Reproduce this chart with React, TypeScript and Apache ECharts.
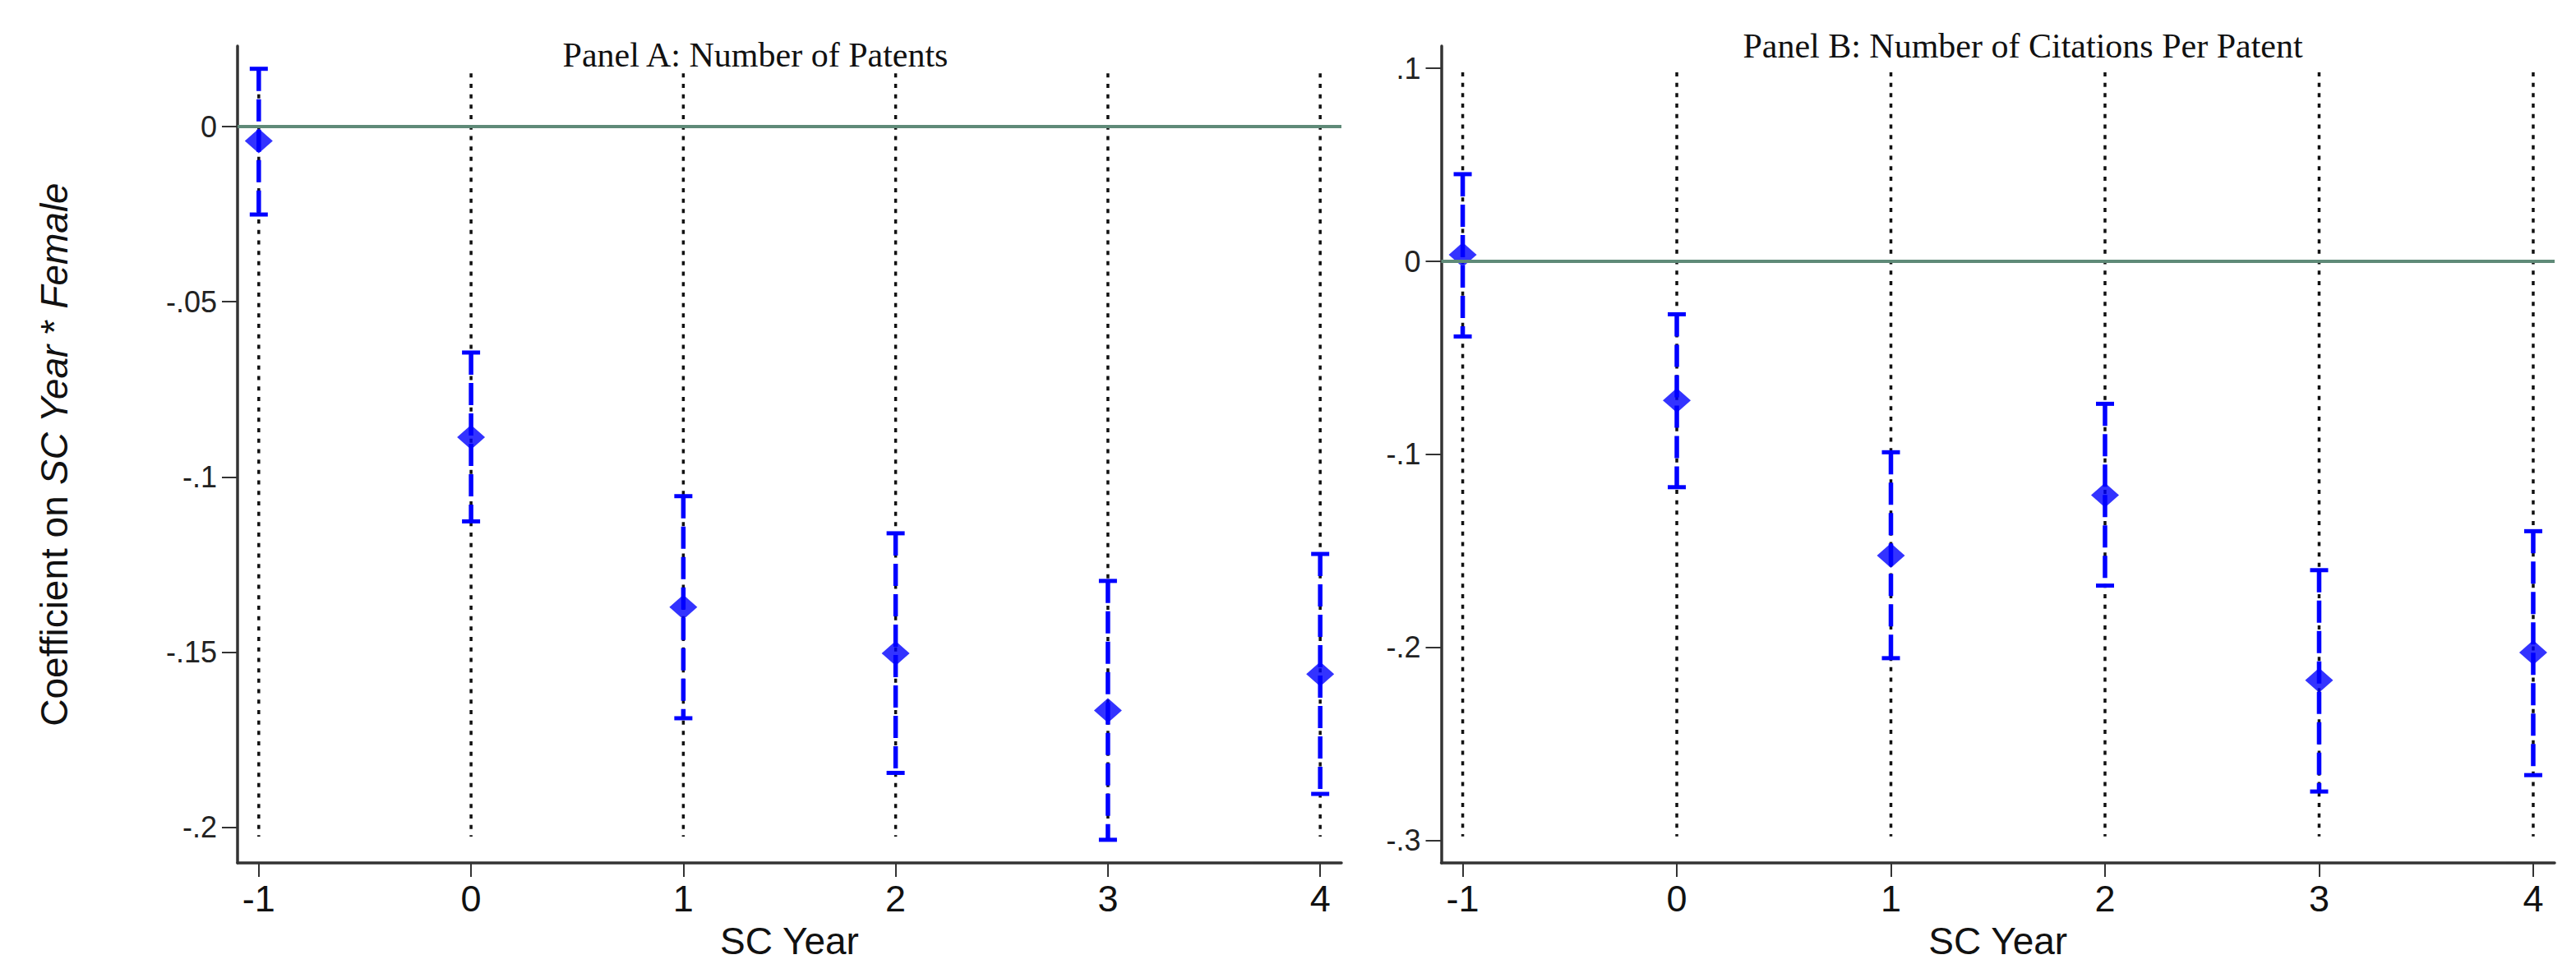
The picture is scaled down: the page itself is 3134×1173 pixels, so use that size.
import React, { useEffect, useRef } from "react";
import * as echarts from "echarts";

// ---- data ----
const years = [-1, 0, 1, 2, 3, 4];

// Panel A: Number of Patents
const patentsCoef = [-0.0041, -0.0887, -0.1372, -0.1504, -0.1667, -0.1563];
const patentsHi = [0.0165, -0.0645, -0.1055, -0.1161, -0.1297, -0.122];
const patentsLo = [-0.0251, -0.1127, -0.1689, -0.1845, -0.2036, -0.1905];

// Panel B: Number of Citations Per Patent
const citesCoef = [0.0034, -0.072, -0.1524, -0.1211, -0.2171, -0.2027];
const citesHi = [0.0452, -0.0274, -0.0989, -0.0738, -0.16, -0.1398];
const citesLo = [-0.0389, -0.117, -0.2056, -0.168, -0.2747, -0.2662];

// tick labels / axis ranges
const patentsTicks = [0, -0.05, -0.1, -0.15, -0.2];
const citesTicks = [0.1, 0, -0.1, -0.2, -0.3];
const patentsRange = [-0.2102, 0.023];
const citesRange = [-0.3117, 0.1116];
const xRange = [-1.1, 4.1];
// vertical dotted guide lines (x-lines) extent
const patentsGuide = [-0.2027, 0.0152];
const citesGuide = [-0.298, 0.098];

const titleA = "Panel A: Number of Patents";
const titleB = "Panel B: Number of Citations Per Patent";

const SANS = "'Liberation Sans', Arial, Helvetica, sans-serif";
const SERIF = "'Liberation Serif', 'Times New Roman', Times, serif";
const BLUE = "#0000ff";

function fmtY(v: number): string {
  if (Math.abs(v) < 1e-9) return "0";
  const s = String(Math.round(v * 1000) / 1000);
  return s.replace("0.", ".");
}

function buildErrData(lo: number[], hi: number[]) {
  return years.map((x, i) => [x, lo[i], hi[i]]);
}

function errRender(params: any, api: any) {
  const x = api.value(0);
  const lo = api.value(1);
  const hi = api.value(2);
  const top = api.coord([x, hi]);
  const bot = api.coord([x, lo]);
  const hw = 11;
  return {
    type: "group",
    children: [
      {
        type: "line",
        shape: { x1: top[0], y1: top[1], x2: bot[0], y2: bot[1] },
        style: { stroke: BLUE, lineWidth: 5.5, lineDash: [27, 10] },
      },
      {
        type: "line",
        shape: { x1: top[0] - hw, y1: top[1], x2: top[0] + hw, y2: top[1] },
        style: { stroke: BLUE, lineWidth: 5 },
      },
      {
        type: "line",
        shape: { x1: bot[0] - hw, y1: bot[1], x2: bot[0] + hw, y2: bot[1] },
        style: { stroke: BLUE, lineWidth: 5 },
      },
    ],
  };
}

function guideRender(params: any, api: any) {
  const x = api.value(0);
  const lo = api.value(1);
  const hi = api.value(2);
  const top = api.coord([x, hi]);
  const bot = api.coord([x, lo]);
  return {
    type: "line",
    shape: { x1: top[0], y1: top[1], x2: bot[0], y2: bot[1] },
    style: { stroke: "#111", lineWidth: 3.5, lineDash: [5, 7.7] },
  };
}

function makeXAxis(gridIndex: number) {
  return {
    type: "value",
    gridIndex,
    min: xRange[0],
    max: xRange[1],
    axisLine: { show: true, onZero: false, lineStyle: { color: "#333", width: 3.5 } },
    axisTick: {
      show: true,
      length: 17,
      customValues: years,
      lineStyle: { color: "#333", width: 2 },
    },
    axisLabel: {
      customValues: years,
      margin: 21,
      fontSize: 45,
      color: "#111",
      fontFamily: SANS,
      formatter: (v: number) => String(v),
    },
    splitLine: { show: false },
    name: "SC Year",
    nameLocation: "middle",
    nameGap: 72,
    nameTextStyle: { fontSize: 46, color: "#111", fontFamily: SANS },
  };
}

function makeYAxis(gridIndex: number, range: number[], ticks: number[], withName: boolean) {
  const ax: any = {
    type: "value",
    gridIndex,
    min: range[0],
    max: range[1],
    axisLine: { show: true, onZero: false, lineStyle: { color: "#333", width: 3.5 } },
    axisTick: {
      show: true,
      length: 19,
      customValues: ticks,
      lineStyle: { color: "#333", width: 2 },
    },
    axisLabel: {
      customValues: ticks,
      margin: 25,
      fontSize: 36,
      color: "#222",
      fontFamily: SANS,
      formatter: (v: number) => fmtY(v),
    },
    splitLine: { show: false },
  };
  if (withName) {
    ax.name = "{n|Coefficient on }{i|SC Year}{n| * }{i|Female}";
    ax.nameLocation = "middle";
    ax.nameGap = 200;
    ax.nameTextStyle = {
      fontSize: 46,
      color: "#111",
      fontFamily: SANS,
      rich: {
        n: { fontSize: 46, color: "#111", fontFamily: SANS },
        i: { fontSize: 46, color: "#111", fontFamily: SANS, fontStyle: "italic" },
      },
    };
  }
  return ax;
}

function panelSeries(
  idx: number,
  coef: number[],
  lo: number[],
  hi: number[],
  guide: number[]
) {
  return [
    {
      type: "custom",
      xAxisIndex: idx,
      yAxisIndex: idx,
      silent: true,
      renderItem: guideRender,
      encode: { x: 0, y: [1, 2] },
      data: years.map((x) => [x, guide[0], guide[1]]),
      z: 1,
    },
    {
      type: "line",
      xAxisIndex: idx,
      yAxisIndex: idx,
      data: [],
      silent: true,
      z: 2,
      markLine: {
        silent: true,
        symbol: ["none", "none"],
        label: { show: false },
        lineStyle: { color: "#5f8a78", width: 4, type: "solid" },
        data: [{ yAxis: 0 }],
      },
    },
    {
      type: "custom",
      xAxisIndex: idx,
      yAxisIndex: idx,
      silent: true,
      renderItem: errRender,
      encode: { x: 0, y: [1, 2] },
      data: buildErrData(lo, hi),
      z: 3,
    },
    {
      type: "scatter",
      xAxisIndex: idx,
      yAxisIndex: idx,
      symbol: "diamond",
      symbolSize: [34, 30],
      itemStyle: { color: BLUE },
      data: years.map((x, i) => [x, coef[i]]),
      z: 4,
    },
  ];
}

export default function App() {
  const ref = useRef<HTMLDivElement | null>(null);

  useEffect(() => {
    if (!ref.current) return;
    const chart = echarts.init(ref.current, undefined, { renderer: "svg" });
    const option: any = {
      animation: false,
      backgroundColor: "#ffffff",
      grid: [
        { left: 289, top: 56, width: 1343, height: 1004 },
        { left: 1753.5, top: 56, width: 1354.5, height: 1004 },
      ],
      xAxis: [makeXAxis(0), makeXAxis(1)],
      yAxis: [
        makeYAxis(0, patentsRange, patentsTicks, true),
        makeYAxis(1, citesRange, citesTicks, false),
      ],
      graphic: [
        {
          type: "text",
          x: 919,
          y: 66.7,
          style: {
            text: titleA,
            fontSize: 42,
            fontFamily: SERIF,
            fill: "#111",
            align: "center",
            verticalAlign: "middle",
          },
        },
        {
          type: "text",
          x: 2461,
          y: 56,
          style: {
            text: titleB,
            fontSize: 42,
            fontFamily: SERIF,
            fill: "#111",
            align: "center",
            verticalAlign: "middle",
          },
        },
      ],
      series: [
        ...panelSeries(0, patentsCoef, patentsLo, patentsHi, patentsGuide),
        ...panelSeries(1, citesCoef, citesLo, citesHi, citesGuide),
      ],
    };
    chart.setOption(option);
    return () => chart.dispose();
  }, []);

  return (
    <div
      ref={ref}
      style={{
        position: "fixed",
        left: 0,
        top: 0,
        width: 3134,
        height: 1173,
        background: "#fff",
      }}
    />
  );
}
